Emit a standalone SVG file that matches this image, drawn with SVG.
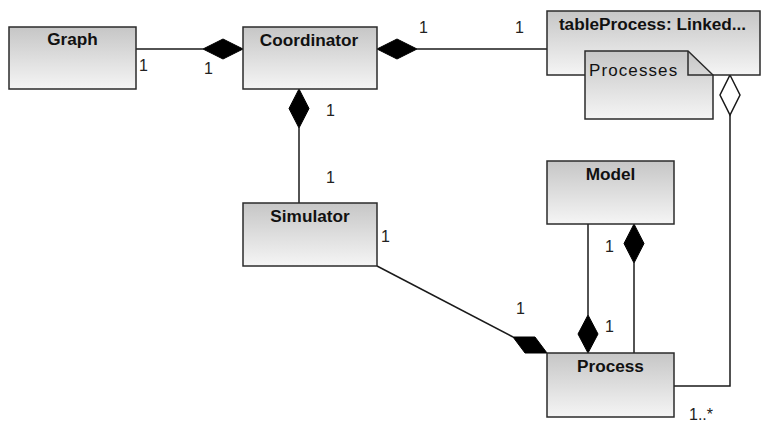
<svg xmlns="http://www.w3.org/2000/svg" width="764" height="423" viewBox="0 0 764 423">
  <style>
    .box { fill: url(#boxFill); stroke: #2b2b2b; stroke-width: 1.5; }
    .title { font-family: "Liberation Sans", Arial, sans-serif; font-weight: bold; font-size: 17.2px; fill: #111; text-anchor: middle; }
    .note-text { font-family: "Liberation Sans", Arial, sans-serif; font-size: 17px; fill: #111; letter-spacing: 1.1px; }
    .edge { fill: none; stroke: #1a1a1a; stroke-width: 1.5; }
    .solid { fill: #000; stroke: #000; stroke-width: 1; }
    .hollow { fill: #fff; stroke: #1a1a1a; stroke-width: 1.5; }
    .mult { font-family: "Liberation Sans", Arial, sans-serif; font-size: 16px; fill: #222; }
  </style>
  <defs>
    <linearGradient id="boxFill" x1="0" y1="0" x2="0" y2="1">
      <stop offset="0" stop-color="#c6c6c6"/>
      <stop offset="1" stop-color="#f5f5f5"/>
    </linearGradient>
  </defs>

  <rect width="764" height="423" fill="#fff"/>

  <!-- connectors -->
  <g id="connectors">
    <!-- Graph - Coordinator -->
    <line class="edge" x1="136" y1="49" x2="203" y2="49"/>
    <polygon class="solid" points="203,49 223,39 243,49 223,59"/>
    <!-- Coordinator - tableProcess -->
    <line class="edge" x1="417" y1="49" x2="547" y2="49"/>
    <polygon class="solid" points="377,49 397,39 417,49 397,59"/>
    <!-- Coordinator - Simulator -->
    <line class="edge" x1="299" y1="128" x2="299" y2="203"/>
    <polygon class="solid" points="299,89 309,108.5 299,128 289,108.5"/>
    <!-- Simulator - Process -->
    <line class="edge" x1="377" y1="266" x2="513" y2="337"/>
    <polygon class="solid" points="513,337 535,337 547,353 525,353"/>
    <!-- Model - Process (diamond at Process) -->
    <line class="edge" x1="588" y1="224" x2="588" y2="315"/>
    <polygon class="solid" points="588,315 598,334 588,353 578,334"/>
    <!-- Process - Model (diamond at Model) -->
    <line class="edge" x1="634" y1="263" x2="634" y2="353"/>
    <polygon class="solid" points="634,224 644,243.5 634,263 624,243.5"/>
    <!-- tableProcess - Process (aggregation) -->
    <polyline class="edge" points="730,115 730,386 674,386"/>
    <polygon class="hollow" points="730,75 740,95 730,115 720,95"/>
  </g>

  <!-- multiplicities -->
  <g id="multiplicities">
    <text class="mult" x="139" y="71">1</text>
    <text class="mult" x="204" y="74">1</text>
    <text class="mult" x="419" y="33">1</text>
    <text class="mult" x="515" y="33">1</text>
    <text class="mult" x="326" y="116">1</text>
    <text class="mult" x="326" y="183">1</text>
    <text class="mult" x="381" y="242">1</text>
    <text class="mult" x="516" y="314">1</text>
    <text class="mult" x="605" y="252">1</text>
    <text class="mult" x="605" y="332">1</text>
    <text class="mult" x="689" y="420">1..*</text>
  </g>

  <!-- classes -->
  <g id="graph">
    <rect class="box" x="9" y="27" width="127" height="62"/>
    <text class="title" x="72.5" y="45">Graph</text>
  </g>
  <g id="coordinator">
    <rect class="box" x="243" y="27" width="134" height="62"/>
    <text class="title" x="309" y="46">Coordinator</text>
  </g>
  <g id="tableProcess">
    <rect class="box" x="547" y="11" width="213" height="64"/>
    <text class="title" x="652.5" y="30">tableProcess: Linked...</text>
  </g>
  <g id="processesNote">
    <path class="box" d="M585,51 H688 L713,75 V119 H585 Z"/>
    <path fill="none" stroke="#2b2b2b" stroke-width="1.5" d="M688,51 V75 H713"/>
    <text class="note-text" x="589" y="76">Processes</text>
  </g>
  <g id="simulator">
    <rect class="box" x="243" y="203" width="134" height="63"/>
    <text class="title" x="310" y="222">Simulator</text>
  </g>
  <g id="model">
    <rect class="box" x="547" y="161" width="127" height="63"/>
    <text class="title" x="610.5" y="180">Model</text>
  </g>
  <g id="process">
    <rect class="box" x="547" y="353" width="127" height="64"/>
    <text class="title" x="610.5" y="372">Process</text>
  </g>
</svg>
